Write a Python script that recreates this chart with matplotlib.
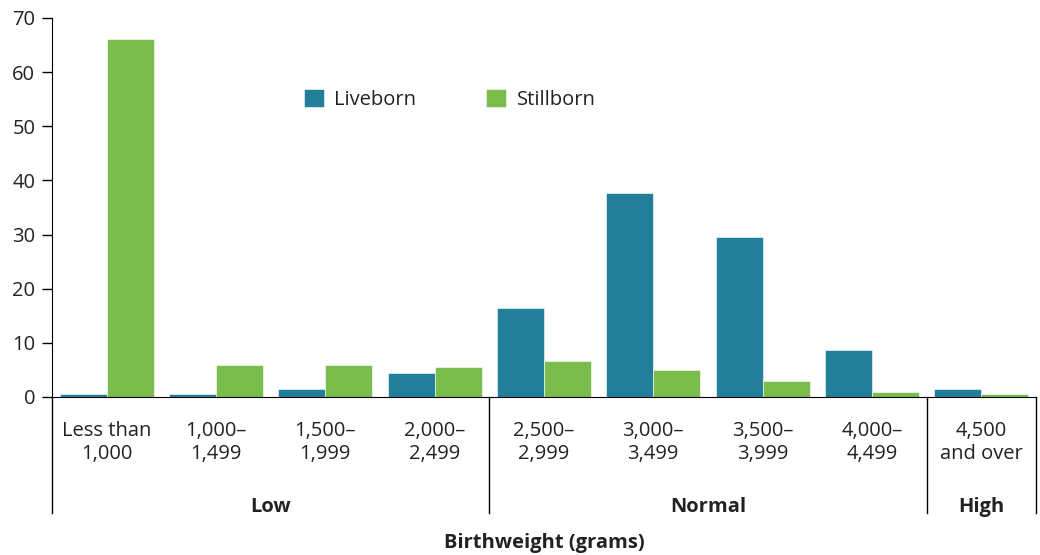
import numpy as np
import matplotlib
matplotlib.use("Agg")
import matplotlib.pyplot as plt
import matplotlib.transforms as mtransforms

plt.rcParams['font.family'] = ['Open Sans', 'DejaVu Sans']

# data (per cent of births in each birthweight group)
categories = ["Less than\n1,000", "1,000\u2013\n1,499", "1,500\u2013\n1,999", "2,000\u2013\n2,499",
              "2,500\u2013\n2,999", "3,000\u2013\n3,499", "3,500\u2013\n3,999", "4,000\u2013\n4,499",
              "4,500\nand over"]
liveborn = [0.5, 0.5, 1.5, 4.4, 16.4, 37.7, 29.6, 8.7, 1.4]
stillborn = [66.1, 5.9, 5.9, 5.6, 6.6, 5.0, 2.9, 0.9, 0.6]
groups = ["Low", "Normal", "High"]
group_sizes = [4, 4, 1]

C_LIVE = "#237f99"
C_STILL = "#7bbd4d"
TXT = "#222222"
FS = 14.5

fig = plt.figure(figsize=(10.4, 5.55), dpi=100)
ax = fig.add_axes([0.05, 0.2847, 0.946, 0.683])

x = np.arange(len(categories))
w = 0.43
ax.bar(x - w/2, liveborn, w, color=C_LIVE, label="Liveborn", edgecolor="white", linewidth=0.4)
ax.bar(x + w/2, stillborn, w, color=C_STILL, label="Stillborn", edgecolor="white", linewidth=0.4)

ax.set_xlim(-0.5, len(categories) - 0.5)
ax.set_ylim(0, 70)
ax.set_yticks(range(0, 71, 10))
ax.tick_params(axis="y", labelsize=FS, length=7, width=1, pad=5)
for lab in ax.get_yticklabels():
    lab.set_color(TXT)
ax.set_xticks(x)
ax.set_xticklabels(categories, fontsize=FS, color=TXT, linespacing=1.2)
ax.tick_params(axis="x", length=0, pad=17)
for s in ["top", "right"]:
    ax.spines[s].set_visible(False)

# group separators below the axis
trans = mtransforms.blended_transform_factory(ax.transData, ax.transAxes)
bounds = np.concatenate([[0], np.cumsum(group_sizes)]) - 0.5
y_low = -116 / 379
for b in bounds:
    ax.plot([b, b], [0, y_low], transform=trans, color="black", lw=1, clip_on=False)
for i, g in enumerate(groups):
    mid = (bounds[i] + bounds[i + 1]) / 2
    ax.text(mid, -110 / 379, g, transform=trans, ha="center", va="center",
            fontsize=FS, fontweight="bold", color=TXT)
fig.text(0.523, 1 - 543 / 555, "Birthweight (grams)", ha="center", va="center",
         fontsize=FS, fontweight="bold", color=TXT)

ax.legend(loc="center", bbox_to_anchor=(0.404, 0.784), ncol=2, frameon=False,
          fontsize=FS, handlelength=1.0, handleheight=1.0, columnspacing=3.5,
          handletextpad=0.5, labelcolor=TXT)

fig.savefig("out.png", dpi=100)
